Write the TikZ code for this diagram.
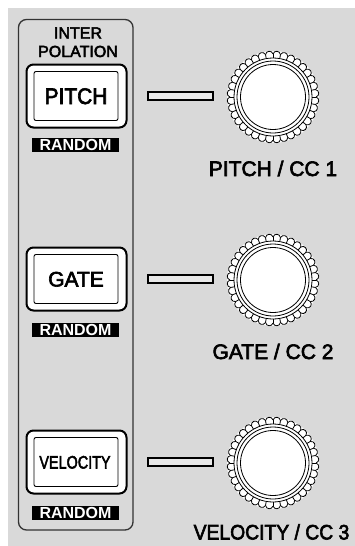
\documentclass[tikz,border=0pt]{standalone}
\usepackage{fontspec}
\setmainfont{Liberation Sans}
\newfontfamily\medfont[FakeBold=3]{Liberation Sans}
\newfontfamily\heavyfont{Liberation Sans Bold}
\usetikzlibrary{calc}
\definecolor{bg}{HTML}{D9D9D9}
\definecolor{panelline}{HTML}{333333}
\definecolor{ledfill}{HTML}{E8E8E8}
\tikzset{
  panelbox/.style={draw=panelline, line width=1.3pt, rounded corners=8pt, minimum width=114.5pt, minimum height=510.5pt, inner sep=0pt},
  btnouter/.style={draw=black, line width=2pt, fill=white, rounded corners=7pt, minimum width=100pt, minimum height=63pt, inner sep=0pt},
  btninner/.style={draw=black, line width=0.9pt, fill=white, rounded corners=2pt, minimum width=84pt, minimum height=49pt, inner sep=0pt},
  btntext/.style={inner sep=0pt, anchor=base},
  randombar/.style={fill=black, text=white, minimum width=87pt, minimum height=14pt, inner sep=0pt, font=\heavyfont\fontsize{16}{16}\selectfont},
  ledslot/.style={draw=black, line width=1.3pt, fill=ledfill, minimum width=65pt, minimum height=8pt, inner sep=0pt},
  knobbody/.style={circle, draw=black, line width=0.8pt, fill=white, minimum size=78pt, inner sep=0pt},
  knobline/.style={line width=0.8pt, black},
  knoblabel/.style={font=\medfont\fontsize{21}{21}\selectfont, inner sep=0pt, anchor=base},
  headtext/.style={font=\medfont\fontsize{16}{16}\selectfont, inner sep=0pt, anchor=base},
}
\newcommand\knurl[1]{%
  \fill[white] (#1) circle[radius=46pt];
  \foreach \k in {0,...,35}{%
    \pgfmathsetmacro\aa{\k*10}%
    \pgfmathsetmacro\ab{\k*10+1.5}%
    \pgfmathsetmacro\ac{\k*10+8.5}%
    \pgfmathsetmacro\ad{\k*10+10}%
    \draw[knobline] ($(#1)+(\aa:43pt)$) .. controls ($(#1)+(\ab:47pt)$) and ($(#1)+(\ac:47pt)$) .. ($(#1)+(\ad:43pt)$);
    \draw[knobline] ($(#1)+(\aa:39pt)$) -- ($(#1)+(\aa:43pt)$);
  }%
}
\begin{document}
\begin{tikzpicture}[x=1pt, y=-1pt]
  \useasboundingbox (0,0) rectangle (355,546);
  \fill[bg] (8,8) rectangle (355,546);

  % left panel
  \node[panelbox] (panel) at (75.75,274.75) {};
  \node[headtext] (inter) at (78,38.5) {INTER};
  \node[headtext] (polation) at (78,57) {POLATION};

  % PITCH row
  \node[btnouter] (pbo) at (76.5,96) {};
  \node[btninner] (pbi) at (76,96) {};
  \node[btntext, font=\medfont\fontsize{22.5}{22.5}\selectfont] (pbt) at (76,104) {\scalebox{0.93}[1]{PITCH}};
  \node[randombar] (pr) at (75.5,145) {RANDOM};
  \node[ledslot] (pled) at (180.5,96) {};
  \coordinate (pk) at (273,97);
  \knurl{pk}
  \node[knobbody] (pknob) at (pk) {};
  \draw[knobline] (pknob.center) circle[radius=36pt];
  \draw[knobline] (pknob.center) circle[radius=32.5pt];
  \node[knoblabel] (plab) at (273,176) {PITCH / CC 1};

  % GATE row
  \node[btnouter] (gbo) at (76.5,279) {};
  \node[btninner] (gbi) at (76,279) {};
  \node[btntext, font=\medfont\fontsize{21}{21}\selectfont] (gbt) at (76,286.5) {GATE};
  \node[randombar] (gr) at (75.5,330) {RANDOM};
  \node[ledslot] (gled) at (180.5,279) {};
  \coordinate (gk) at (273,280);
  \knurl{gk}
  \node[knobbody] (gknob) at (gk) {};
  \draw[knobline] (gknob.center) circle[radius=36pt];
  \draw[knobline] (gknob.center) circle[radius=32.5pt];
  \node[knoblabel] (glab) at (273,359) {GATE / CC 2};

  % VELOCITY row
  \node[btnouter] (vbo) at (76.5,462) {};
  \node[btninner] (vbi) at (76,462) {};
  \node[btntext, font=\medfont\fontsize{18}{18}\selectfont] (vbt) at (75,468.5) {\scalebox{0.8}[1]{VELOCITY}};
  \node[randombar] (vr) at (75.5,513) {RANDOM};
  \node[ledslot] (vled) at (180.5,462) {};
  \coordinate (vk) at (273,463);
  \knurl{vk}
  \node[knobbody] (vknob) at (vk) {};
  \draw[knobline] (vknob.center) circle[radius=36pt];
  \draw[knobline] (vknob.center) circle[radius=32.5pt];
  \node[knoblabel] (vlab) at (271.5,539.5) {\scalebox{0.92}[1]{VELOCITY / CC 3}};
\end{tikzpicture}
\end{document}
